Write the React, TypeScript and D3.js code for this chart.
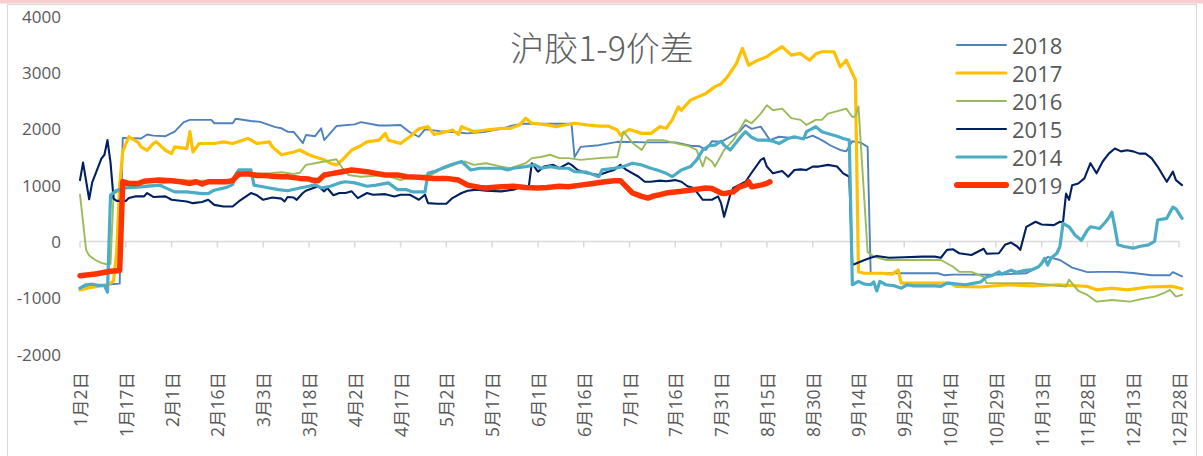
import React from "react";
import * as d3 from "d3";

// x = trading day offset from 1月2日, y = spread value
const xTickLabels = ["1月2日","1月17日","2月1日","2月16日","3月3日","3月18日","4月2日","4月17日","5月2日","5月17日","6月1日","6月16日","7月1日","7月16日","7月31日","8月15日","8月30日","9月14日","9月29日","10月14日","10月29日","11月13日","11月28日","12月13日","12月28日"];
const yTicks = [-2000, -1000, 0, 1000, 2000, 3000, 4000];

const s2018: [number, number][] = [[0,-820],[5,-800],[10,-760],[13,-750],[14,1840],[20,1830],[22,1900],[24,1880],[28,1870],[31,1950],[34,2120],[36,2160],[43,2160],[44,2100],[50,2100],[51,2180],[56,2140],[59,2125],[64,2030],[66,2010],[68,1950],[70,1945],[73,1745],[74,1890],[77,1870],[79,2010],[80,1800],[84,2050],[90,2080],[92,2120],[98,2060],[101,2060],[105,2070],[108,1940],[111,1860],[113,1990],[118,1960],[121,1950],[127,1920],[133,1950],[138,2000],[141,2050],[145,2090],[155,2090],[161,2090],[162,1500],[164,1680],[170,1710],[176,1770],[186,1760],[195,1760],[200,1700],[203,1690],[205,1625],[207,1780],[210,1770],[213,1860],[216,1950],[218,2070],[220,2000],[223,2040],[226,1800],[229,1860],[233,1840],[238,1840],[240,1880],[243,1800],[246,1700],[249,1625],[251,1600],[253,1780],[256,1750],[258,1680],[259,-560],[270,-565],[281,-565],[283,-600],[286,-590],[301,-590],[310,-565],[314,-450],[317,-275],[321,-330],[325,-465],[330,-545],[334,-540],[340,-540],[345,-560],[351,-600],[357,-600],[358,-545],[361,-620]];

const s2017: [number, number][] = [[0,-860],[3,-820],[6,-800],[8,-780],[10,-740],[11,-700],[12,-200],[13,1000],[14,1600],[16,1860],[19,1760],[20,1680],[22,1620],[24,1740],[25,1770],[28,1620],[30,1560],[31,1680],[35,1650],[36,1950],[37,1590],[39,1740],[44,1740],[47,1770],[50,1740],[55,1830],[58,1740],[62,1770],[63,1680],[66,1540],[70,1590],[72,1625],[75,1540],[77,1500],[80,1450],[82,1390],[84,1360],[86,1450],[89,1625],[92,1700],[94,1770],[98,1800],[100,1920],[101,1800],[105,1740],[108,1860],[111,2000],[114,2040],[116,1900],[120,1950],[122,1980],[124,1900],[125,2040],[129,1950],[133,1980],[138,2010],[141,2010],[144,2070],[146,2190],[148,2100],[153,2070],[156,2040],[158,2060],[162,2100],[166,2070],[170,2050],[173,2050],[176,1980],[177,1890],[180,1990],[184,1920],[187,1920],[190,2040],[192,2010],[194,2160],[196,2390],[197,2330],[200,2510],[202,2560],[205,2630],[208,2750],[210,2800],[212,2920],[215,3160],[217,3430],[219,3130],[222,3220],[225,3280],[227,3360],[230,3460],[233,3310],[236,3340],[239,3220],[241,3330],[243,3370],[247,3370],[249,3100],[251,3220],[254,2870],[255,-540],[257,-565],[263,-565],[266,-580],[268,-510],[269,-740],[285,-740],[287,-800],[295,-810],[304,-770],[312,-790],[320,-770],[330,-800],[333,-860],[338,-830],[343,-860],[350,-810],[358,-800],[361,-840]];

const s2016: [number, number][] = [[0,830],[2,-150],[3,-250],[5,-330],[7,-380],[9,-410],[10,-400],[11,850],[15,950],[20,990],[25,1000],[32,1090],[40,1080],[50,1090],[55,1230],[60,1200],[66,1230],[70,1200],[72,1220],[74,1360],[77,1390],[80,1420],[84,1460],[86,1300],[88,1180],[92,1150],[100,1180],[105,1090],[109,1150],[115,1180],[118,1270],[121,1330],[124,1390],[126,1420],[129,1360],[133,1390],[138,1330],[141,1300],[146,1390],[148,1480],[151,1500],[154,1540],[157,1480],[160,1480],[164,1450],[170,1480],[176,1500],[178,1950],[181,1750],[184,1625],[186,1800],[191,1800],[194,1760],[197,1720],[199,1700],[202,1625],[204,1330],[205,1500],[207,1420],[208,1330],[211,1625],[214,1800],[216,1980],[218,2160],[220,2100],[223,2270],[225,2420],[227,2330],[230,2360],[233,2190],[236,2160],[238,2070],[241,2160],[243,2160],[245,2270],[249,2330],[251,2360],[253,2210],[254,2220],[255,2400],[258,-190],[260,-270],[264,-330],[282,-330],[286,-450],[288,-540],[292,-540],[296,-630],[297,-740],[312,-740],[319,-780],[323,-800],[324,-680],[327,-880],[330,-950],[333,-1070],[338,-1040],[344,-1070],[348,-1020],[352,-980],[355,-920],[357,-860],[359,-980],[361,-950]];

const s2015: [number, number][] = [[0,1090],[1,1400],[3,750],[4,1050],[6,1330],[7,1470],[8,1540],[9,1800],[10,1400],[11,760],[12,720],[15,720],[16,770],[18,800],[21,800],[22,860],[24,790],[28,800],[30,740],[35,710],[37,680],[40,700],[42,740],[44,650],[47,620],[50,620],[52,710],[56,860],[58,820],[60,740],[63,780],[66,760],[67,710],[68,790],[70,780],[71,740],[73,860],[74,900],[76,940],[78,980],[80,890],[81,950],[83,820],[85,860],[87,860],[89,890],[91,770],[94,860],[96,830],[100,840],[103,800],[105,830],[108,830],[109,800],[111,740],[113,830],[114,680],[117,670],[120,670],[122,770],[125,860],[127,900],[130,920],[133,900],[138,890],[142,920],[145,980],[147,970],[148,1390],[150,1240],[152,1330],[155,1360],[157,1300],[160,1390],[161,1360],[163,1270],[166,1210],[170,1180],[173,1240],[175,1270],[177,1360],[179,1270],[183,1150],[185,1060],[187,1060],[190,1080],[192,1070],[195,1090],[197,1060],[199,980],[201,950],[204,740],[207,740],[209,800],[210,680],[211,440],[213,830],[214,950],[218,1060],[220,1220],[223,1450],[224,1480],[225,1330],[227,1210],[230,1250],[232,1150],[234,1270],[236,1280],[238,1270],[240,1330],[242,1330],[245,1360],[248,1330],[250,1210],[252,1150],[253,-420],[255,-375],[257,-330],[259,-290],[261,-260],[265,-290],[270,-280],[276,-270],[280,-270],[282,-290],[284,-150],[286,-140],[288,-210],[292,-240],[296,-130],[297,-220],[301,-210],[303,-60],[305,-20],[307,-90],[308,-150],[310,260],[313,350],[315,300],[319,290],[321,350],[322,340],[323,850],[324,740],[325,1000],[327,1030],[329,1120],[331,1390],[333,1210],[335,1420],[337,1560],[339,1650],[341,1600],[343,1620],[345,1600],[347,1560],[349,1560],[351,1480],[353,1330],[355,1150],[356,1060],[358,1240],[359,1090],[361,1000]];

const s2014: [number, number][] = [[0,-830],[2,-770],[4,-760],[6,-780],[8,-780],[9,-900],[10,820],[12,910],[15,950],[20,970],[26,1000],[31,880],[35,880],[40,850],[42,850],[44,910],[48,960],[50,1010],[51,1190],[52,1270],[56,1270],[57,1000],[59,980],[62,950],[65,920],[68,900],[72,950],[75,980],[77,1010],[79,950],[82,980],[85,1040],[87,1060],[90,1040],[94,980],[97,1000],[101,1040],[104,920],[107,920],[109,880],[113,880],[114,1210],[116,1240],[120,1330],[122,1370],[125,1420],[128,1270],[131,1300],[138,1300],[140,1270],[142,1300],[146,1330],[149,1360],[151,1300],[154,1330],[157,1300],[160,1300],[162,1240],[166,1230],[170,1150],[171,1270],[175,1300],[178,1330],[181,1390],[184,1360],[187,1300],[189,1270],[192,1210],[194,1150],[197,1270],[200,1330],[202,1450],[204,1625],[206,1700],[208,1710],[210,1780],[211,1710],[213,1625],[216,1830],[218,1950],[220,1850],[222,1800],[225,1800],[227,1780],[229,1740],[232,1830],[234,1860],[237,1820],[238,1950],[240,2010],[241,2040],[243,1950],[246,1900],[248,1870],[250,1830],[252,1800],[253,-770],[255,-710],[257,-760],[259,-770],[260,-720],[261,-880],[262,-710],[264,-770],[267,-790],[269,-830],[271,-770],[273,-790],[280,-790],[282,-800],[284,-740],[290,-770],[293,-740],[295,-720],[297,-630],[299,-600],[301,-540],[302,-580],[305,-510],[307,-550],[309,-520],[312,-500],[314,-450],[315,-390],[316,-300],[317,-420],[318,-300],[320,-210],[321,-90],[322,320],[324,260],[326,110],[328,20],[330,200],[331,260],[334,230],[336,350],[337,420],[338,520],[339,250],[340,-60],[342,-90],[345,-120],[347,-90],[350,-60],[352,0],[353,380],[356,410],[358,610],[359,580],[361,410]];

const s2019: [number, number][] = [[0,-610],[5,-580],[10,-530],[13,-515],[14,1060],[16,1030],[19,1030],[21,1070],[26,1090],[30,1080],[33,1060],[36,1030],[38,1060],[40,1020],[42,1060],[48,1060],[50,1080],[52,1200],[55,1200],[58,1170],[61,1170],[63,1160],[66,1150],[68,1150],[72,1120],[75,1110],[76,1090],[78,1080],[80,1180],[82,1200],[85,1230],[89,1270],[94,1240],[97,1210],[100,1180],[104,1180],[107,1150],[111,1140],[116,1120],[120,1120],[124,1090],[127,1000],[131,960],[133,950],[138,970],[142,980],[146,960],[150,950],[153,960],[157,980],[160,970],[164,1000],[168,1030],[172,1060],[175,1080],[177,1080],[179,970],[181,860],[184,800],[186,770],[188,810],[190,830],[192,860],[197,890],[201,920],[205,950],[207,940],[210,860],[211,850],[214,880],[216,970],[218,1000],[219,1060],[220,970],[223,1000],[225,1030],[226,1060]];

const seriesNames = ["2018", "2017", "2016", "2015", "2014", "2019"];
const seriesData = [s2018, s2017, s2016, s2015, s2014, s2019];
const seriesColors = ["#4f81bd", "#ffc000", "#9bbb59", "#002060", "#4bacc6", "#ff3300"];
const seriesWidths = [1.9, 3.2, 1.9, 2.1, 3.2, 5.5];

const W = 1203;
const H = 456;
const numFont = "'Open Sans', 'Noto Sans CJK SC', sans-serif";

export default function App() {
  const x = d3.scaleLinear().domain([0, 360]).range([80, 1179]);
  const y = d3.scaleLinear().domain([-2000, 4000]).range([354, 16.3]);
  const line = d3
    .line<[number, number]>()
    .x((d) => x(d[0]))
    .y((d) => y(d[1]));
  const xTicks = xTickLabels.map((_, i) => i * 15);

  return (
    <svg
      width={W}
      height={H}
      style={{ position: "absolute", left: 0, top: 0, background: "#fff" }}
    >
      <rect x={0} y={0} width={W} height={3.5} fill="#f8cdd0" />
      <rect x={7.5} y={4.5} width={1189} height={460} fill="#fff" stroke="#d9d9d9" strokeWidth={1.2} />

      {yTicks.map((t) => (
        <text
          key={t}
          x={61}
          y={y(t)}
          textAnchor="end"
          dominantBaseline="central"
          fontFamily={numFont}
          fontSize={17}
          fill="#595959"
        >
          {t}
        </text>
      ))}

      <line x1={x(0)} x2={x(360)} y1={y(0)} y2={y(0)} stroke="#d9d9d9" strokeWidth={1.5} />
      {xTicks.map((d) => (
        <line key={d} x1={x(d)} x2={x(d)} y1={y(0)} y2={y(0) + 6} stroke="#d9d9d9" strokeWidth={1.5} />
      ))}

      {xTicks.map((d, i) => (
        <text
          key={d}
          transform={`translate(${x(d)},372) rotate(-90)`}
          textAnchor="end"
          dominantBaseline="central"
          fontFamily={numFont}
          fontSize={17.5}
          fill="#595959"
        >
          {xTickLabels[i]}
        </text>
      ))}

      <text
        x={602}
        y={61}
        textAnchor="middle"
        fontFamily="'Noto Sans CJK SC', sans-serif"
        fontWeight={300}
        fontSize={34}
        fill="#606060"
      >
        沪胶1-9价差
      </text>

      {seriesData.map((s, i) => (
        <path
          key={seriesNames[i]}
          d={line(s) || ""}
          fill="none"
          stroke={seriesColors[i]}
          strokeWidth={seriesWidths[i]}
          strokeLinejoin="round"
          strokeLinecap="round"
        />
      ))}

      {seriesNames.map((n, i) => {
        const ly = 45 + i * 28;
        return (
          <g key={n}>
            <line
              x1={957}
              x2={1006}
              y1={ly}
              y2={ly}
              stroke={seriesColors[i]}
              strokeWidth={seriesWidths[i] + (i === 5 ? 0.5 : 0)}
              strokeLinecap="round"
            />
            <text
              x={1012}
              y={ly}
              dominantBaseline="central"
              fontFamily={numFont}
              fontSize={22}
              fill="#595959"
            >
              {n}
            </text>
          </g>
        );
      })}
    </svg>
  );
}
